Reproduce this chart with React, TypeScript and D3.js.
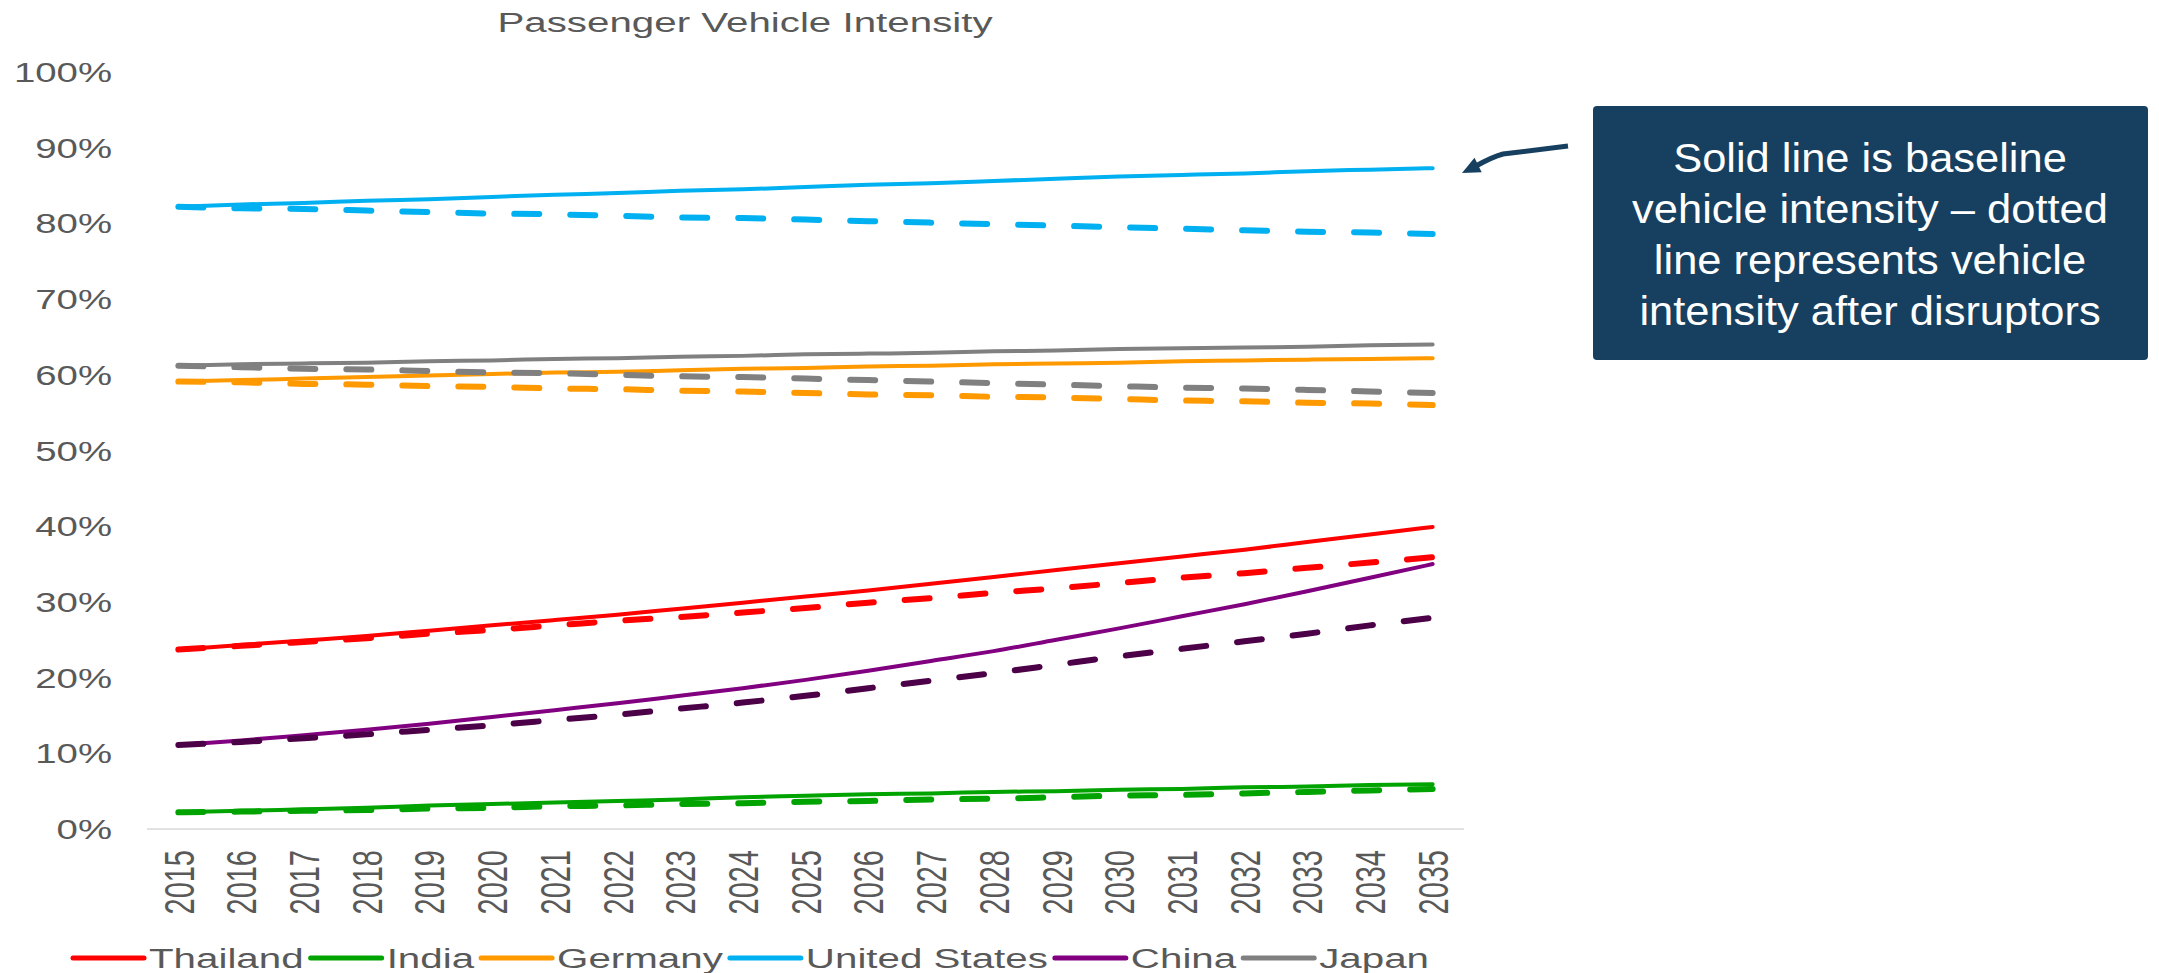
import React, { useEffect, useRef } from "react";
import * as d3 from "d3";

const years = [
  "2015", "2016", "2017", "2018", "2019", "2020", "2021", "2022", "2023", "2024", "2025",
  "2026", "2027", "2028", "2029", "2030", "2031", "2032", "2033", "2034", "2035",
];

// baseline (solid) and after disruptors (dashed), in %
const thailand = [23.7, 24.3, 24.9, 25.5, 26.2, 26.9, 27.6, 28.3, 29.1, 29.9, 30.7, 31.5, 32.4, 33.3, 34.2, 35.1, 36.0, 36.9, 37.9, 38.9, 39.9];
const thailandAfter = [23.7, 24.2, 24.7, 25.2, 25.8, 26.3, 26.9, 27.5, 28.0, 28.6, 29.2, 29.9, 30.5, 31.2, 31.8, 32.5, 33.2, 33.8, 34.5, 35.2, 35.9];
const india = [2.2, 2.4, 2.6, 2.8, 3.1, 3.3, 3.5, 3.7, 3.9, 4.2, 4.4, 4.6, 4.7, 4.9, 5.0, 5.2, 5.3, 5.5, 5.6, 5.8, 5.9];
const indiaAfter = [2.2, 2.3, 2.4, 2.5, 2.7, 2.8, 3.0, 3.1, 3.3, 3.4, 3.6, 3.7, 3.9, 4.0, 4.2, 4.4, 4.5, 4.7, 4.9, 5.1, 5.3];
const germany = [59.1, 59.3, 59.5, 59.7, 59.9, 60.1, 60.3, 60.4, 60.6, 60.8, 60.9, 61.1, 61.2, 61.4, 61.5, 61.6, 61.8, 61.9, 62.0, 62.1, 62.2];
const germanyAfter = [59.1, 59.0, 58.8, 58.7, 58.5, 58.4, 58.2, 58.1, 57.9, 57.8, 57.6, 57.4, 57.3, 57.1, 57.0, 56.8, 56.6, 56.5, 56.3, 56.2, 56.0];
const unitedStates = [82.2, 82.5, 82.7, 83.0, 83.2, 83.5, 83.8, 84.0, 84.3, 84.5, 84.8, 85.1, 85.3, 85.6, 85.9, 86.2, 86.4, 86.6, 86.9, 87.1, 87.3];
const unitedStatesAfter = [82.2, 82.0, 81.9, 81.7, 81.5, 81.3, 81.2, 81.0, 80.8, 80.7, 80.5, 80.3, 80.1, 79.9, 79.7, 79.5, 79.3, 79.1, 78.9, 78.8, 78.6];
const china = [11.1, 11.7, 12.4, 13.1, 13.9, 14.8, 15.7, 16.6, 17.6, 18.6, 19.7, 20.9, 22.2, 23.5, 25.0, 26.5, 28.1, 29.7, 31.4, 33.2, 35.0];
const chinaAfter = [11.1, 11.5, 12.0, 12.5, 13.1, 13.7, 14.4, 15.1, 15.9, 16.7, 17.6, 18.6, 19.6, 20.6, 21.7, 22.8, 23.8, 24.8, 25.8, 26.9, 27.9];
const japan = [61.2, 61.4, 61.5, 61.6, 61.8, 61.9, 62.1, 62.2, 62.4, 62.5, 62.7, 62.8, 62.9, 63.1, 63.2, 63.4, 63.5, 63.6, 63.7, 63.9, 64.0];
const japanAfter = [61.2, 61.0, 60.8, 60.7, 60.5, 60.3, 60.2, 60.0, 59.8, 59.7, 59.5, 59.3, 59.1, 58.9, 58.7, 58.5, 58.3, 58.2, 58.0, 57.8, 57.6];

const countries = ["Thailand", "India", "Germany", "United States", "China", "Japan"];
const baseline = [thailand, india, germany, unitedStates, china, japan];
const afterDisruptors = [thailandAfter, indiaAfter, germanyAfter, unitedStatesAfter, chinaAfter, japanAfter];
const colors = ["#ff0000", "#00a300", "#ff9900", "#00b0f0", "#800080", "#808080"];
const dashColors = ["#ff0000", "#00a300", "#ff9900", "#00b0f0", "#4b0048", "#808080"];

const title = "Passenger Vehicle Intensity";
const note = [
  "Solid line is baseline",
  "vehicle intensity \u2013 dotted",
  "line represents vehicle",
  "intensity after disruptors",
];

export default function App() {
  const ref = useRef<SVGSVGElement>(null);

  useEffect(() => {
    const svg = d3.select(ref.current);
    svg.selectAll("*").remove();

    const font = '"Liberation Sans", Arial, sans-serif';
    const grey = "#595959";
    const SX = 1.44; // the chart text is stretched sideways

    const x = d3.scalePoint<string>().domain(years).range([147, 1464]).padding(0.5);
    const y = d3.scaleLinear().domain([0, 100]).range([829, 72]);

    // title
    svg.append("text")
      .attr("transform", `translate(745,32) scale(${SX},1)`)
      .attr("text-anchor", "middle")
      .attr("font-family", font)
      .attr("font-size", 28)
      .attr("fill", grey)
      .text(title);

    // y labels
    svg.append("g")
      .selectAll("text")
      .data(y.ticks(10))
      .join("text")
      .attr("transform", d => `translate(112,${y(d) + 10}) scale(1.37,1)`)
      .attr("text-anchor", "end")
      .attr("font-family", font)
      .attr("font-size", 28)
      .attr("fill", grey)
      .text(d => d + "%");

    // category axis
    svg.append("line")
      .attr("x1", 147).attr("x2", 1464)
      .attr("y1", y(0)).attr("y2", y(0))
      .attr("stroke", "#d9d9d9")
      .attr("stroke-width", 1.5);

    svg.append("g")
      .selectAll("text")
      .data(years)
      .join("text")
      .attr("transform", d => `translate(${x(d)},850) scale(1.46,1) rotate(-90)`)
      .attr("text-anchor", "end")
      .attr("dy", "0.36em")
      .attr("font-family", font)
      .attr("font-size", 29)
      .attr("fill", grey)
      .text(d => d);

    const line = d3.line<number>()
      .x((_, i) => x(years[i])!)
      .y(d => y(d))
      .curve(d3.curveMonotoneX);

    // solid lines
    svg.append("g")
      .selectAll("path")
      .data(baseline)
      .join("path")
      .attr("d", d => line(d))
      .attr("fill", "none")
      .attr("stroke", (_, i) => colors[i])
      .attr("stroke-width", 4)
      .attr("stroke-linecap", "round")
      .attr("stroke-linejoin", "round");

    // dashed lines
    svg.append("g")
      .selectAll("path")
      .data(afterDisruptors)
      .join("path")
      .attr("d", d => line(d))
      .attr("fill", "none")
      .attr("stroke", (_, i) => dashColors[i])
      .attr("stroke-width", 6)
      .attr("stroke-dasharray", "25 31")
      .attr("stroke-linecap", "round");

    // legend
    const lg = svg.append("g");
    let cx = 73;
    countries.forEach((name, i) => {
      lg.append("line")
        .attr("x1", cx).attr("x2", cx + 71)
        .attr("y1", 958).attr("y2", 958)
        .attr("stroke", colors[i])
        .attr("stroke-width", 5)
        .attr("stroke-linecap", "round");
      const tx = cx + 76;
      const t = lg.append("text")
        .attr("transform", `translate(${tx},968) scale(${SX},1)`)
        .attr("font-family", font)
        .attr("font-size", 28)
        .attr("fill", grey)
        .text(name);
      const w = (t.node() as SVGTextElement).getComputedTextLength() * SX;
      cx = tx + w + 7;
    });

    // note box
    const navy = "#174060";
    svg.append("rect")
      .attr("x", 1593).attr("y", 106)
      .attr("width", 555).attr("height", 254)
      .attr("rx", 4)
      .attr("fill", navy);
    svg.append("g")
      .selectAll("text")
      .data(note)
      .join("text")
      .attr("transform", (_, i) => `translate(1870,${172 + i * 51}) scale(1.06,1)`)
      .attr("text-anchor", "middle")
      .attr("font-family", font)
      .attr("font-size", 41)
      .attr("fill", "#ffffff")
      .text(d => d);

    // arrow
    svg.append("path")
      .attr("d", "M1568,146 L1503,154 Q1492,157 1476,166")
      .attr("fill", "none")
      .attr("stroke", navy)
      .attr("stroke-width", 5);
    svg.append("path")
      .attr("d", "M1462,173 L1474.5,157.8 L1481.7,172.2 Z")
      .attr("fill", navy);
  }, []);

  return (
    <svg
      ref={ref}
      width={2159}
      height={973}
      style={{ position: "absolute", left: 0, top: 0, background: "#ffffff" }}
    />
  );
}
